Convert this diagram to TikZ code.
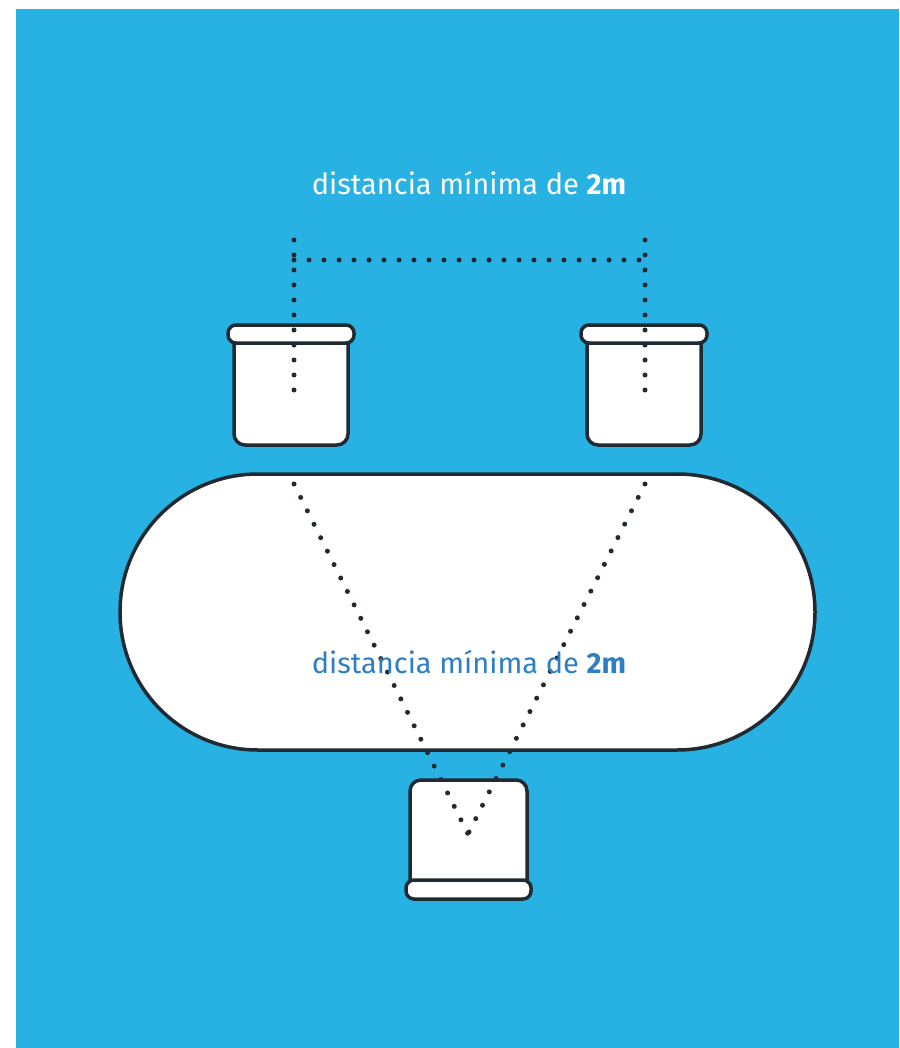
\documentclass[tikz,border=0pt]{standalone}
\usepackage{fontspec}
\setmainfont{Fira Sans}
\usepackage{tikz}
\usetikzlibrary{calc}
\definecolor{sky}{RGB}{40,178,228}
\definecolor{ink}{RGB}{46,126,196}
\definecolor{edge}{RGB}{32,42,48}
\tikzstyle{every chair}=[draw=edge,fill=white,line width=3.5pt,line join=round]
\tikzstyle{dots}=[edge,line width=5pt,line cap=round,dash pattern=on 0pt off 15pt]
\tikzstyle{label}=[font=\fontsize{29}{34}\selectfont,inner sep=0pt]

\begin{document}
\begin{tikzpicture}[x=1pt,y=-1pt]
	\useasboundingbox (0,0) rectangle (899,1048);
	\fill[sky] (16,9) rectangle (899,1048);

	% table
	\draw[every chair,rounded corners=138pt] (120,474) rectangle (815,750);

	% chairs at the top
	\foreach \x/\n in {291/cl,644/cr}{
		\draw[every chair] ($(\x,342)+(-57,0)$) [rounded corners=11pt] -- ++(0,103) -- ++(114,0) [sharp corners] -- ++(0,-103);
		\draw[every chair,rounded corners=8pt] ($(\x,325)+(-63,0)$) rectangle ++(126,18);
		\coordinate (\n) at (\x,342);
	}
	% chair at the bottom
	\draw[every chair] (410,880) [rounded corners=11pt] -- (410,780) -- (527,780) [sharp corners] -- (527,880);
	\draw[every chair,rounded corners=8pt] (406,880) rectangle (531,899);
	\coordinate (cb) at (468,834);

	% distances
	\coordinate (a) at (294,240);
	\coordinate (b) at (645,240);
	\draw[dots] (a) -- (294,392);
	\draw[dots] (b) -- (645,392);
	\draw[dots] (294,260) -- (645,260);
	\draw[dots] (294,484) -- (cb);
	\draw[dots] (645,484) -- (cb);

	\node[label,white] (top) at (469,183) {distancia mínima de \textbf{2m}};
	\node[label,ink] (mid) at (469,662) {distancia mínima de \textbf{2m}};
\end{tikzpicture}
\end{document}
